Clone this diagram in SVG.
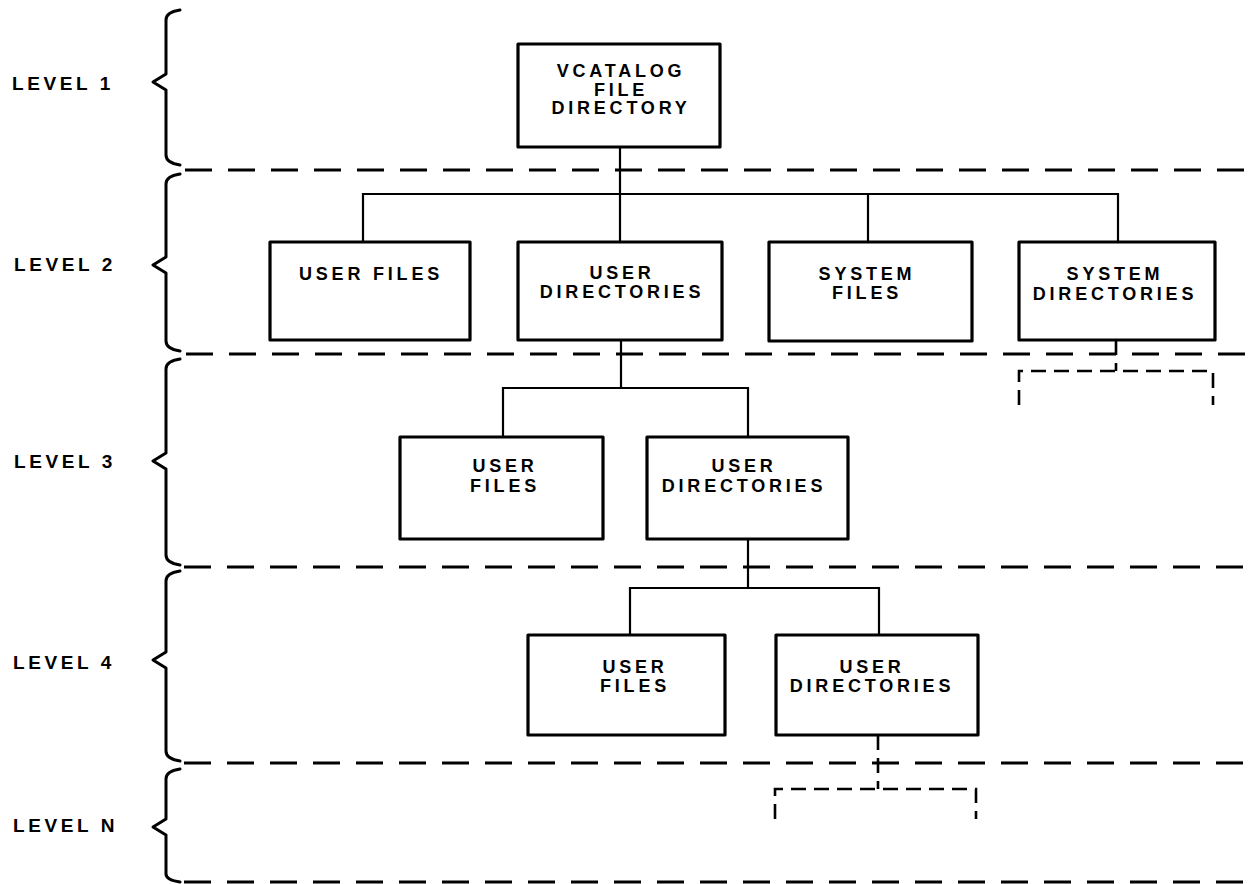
<svg xmlns="http://www.w3.org/2000/svg" width="1254" height="884" viewBox="0 0 1254 884">
<style>
  .bg { fill: #ffffff; }
  .box { fill: #ffffff; stroke: #000; stroke-width: 3.2; stroke-linejoin: round; }
  .lbl { font-family: "Liberation Sans", Arial, sans-serif; font-weight: bold; font-size: 18px; letter-spacing: 3.8px; text-anchor: middle; fill: #000; }
  .lvl { font-family: "Liberation Sans", Arial, sans-serif; font-weight: bold; font-size: 19px; letter-spacing: 3.6px; fill: #000; }
  .conn { fill: none; stroke: #000; stroke-width: 2.2; }
  .dconn { fill: none; stroke: #000; stroke-width: 2.6; stroke-dasharray: 15 8; }
  .div { fill: none; stroke: #000; stroke-width: 3; stroke-dasharray: 27 16; }
  .brace { fill: none; stroke: #000; stroke-width: 3; stroke-linejoin: round; stroke-linecap: round; }
</style>
<rect class="bg" x="0" y="0" width="1254" height="884"/>

<g id="levels">
  <g id="level1">
    <text class="lvl" x="12" y="90">LEVEL 1</text>
    <path class="brace" d="M180,10 Q166,12 166,20 L166,74 L153,82 L166,90 L166,155 Q166,163 180,165"/>
  </g>
  <g id="level2">
    <text class="lvl" x="14" y="271">LEVEL 2</text>
    <path class="brace" d="M180,174 Q166,176 166,184 L166,257 L153,265 L166,273 L166,341 Q166,349 180,351"/>
  </g>
  <g id="level3">
    <text class="lvl" x="14" y="468">LEVEL 3</text>
    <path class="brace" d="M180,359 Q166,361 166,369 L166,453 L153,461 L166,469 L166,555 Q166,563 180,565"/>
  </g>
  <g id="level4">
    <text class="lvl" x="13" y="669">LEVEL 4</text>
    <path class="brace" d="M180,571 Q166,573 166,581 L166,652 L153,660 L166,668 L166,751 Q166,759 180,761"/>
  </g>
  <g id="levelN">
    <text class="lvl" x="13" y="832">LEVEL N</text>
    <path class="brace" d="M180,769 Q166,771 166,779 L166,819 L153,827 L166,835 L166,874 Q166,880 180,882"/>
  </g>
</g>

<g id="dividers">
  <line class="div" x1="185" y1="170" x2="1254" y2="170"/>
  <line class="div" x1="186" y1="354" x2="1254" y2="354"/>
  <line class="div" x1="184" y1="567" x2="1254" y2="567"/>
  <line class="div" x1="184" y1="763" x2="1254" y2="763"/>
  <line class="div" x1="184" y1="882" x2="1254" y2="882"/>
</g>

<g id="connectors">
  <!-- level 1 to level 2 -->
  <line class="conn" x1="620" y1="147" x2="620" y2="242"/>
  <polyline class="conn" points="363,242 363,194 1118,194 1118,242"/>
  <line class="conn" x1="868" y1="194" x2="868" y2="242"/>
  <!-- level 2 user directories to level 3 -->
  <line class="conn" x1="621" y1="340" x2="621" y2="388"/>
  <polyline class="conn" points="503,437 503,388 748,388 748,437"/>
  <!-- level 3 user directories to level 4 -->
  <line class="conn" x1="748" y1="539" x2="748" y2="588"/>
  <polyline class="conn" points="630,635 630,588 879,588 879,635"/>
  <!-- system directories continuation -->
  <line class="dconn" x1="1116" y1="340" x2="1116" y2="371"/>
  <path class="dconn" d="M1019,405 L1019,371 L1213,371 L1213,405"/>
  <!-- level 4 user directories continuation -->
  <line class="dconn" x1="878" y1="735" x2="878" y2="789"/>
  <path class="dconn" d="M775,819 L775,789 L976,789 L976,819"/>
</g>

<g id="n-vcatalog">
  <rect class="box" x="518" y="44" width="202" height="103"/>
  <text class="lbl" x="621" y="77">VCATALOG</text>
  <text class="lbl" x="621" y="96">FILE</text>
  <text class="lbl" x="621" y="114">DIRECTORY</text>
</g>

<g id="n-l2-user-files">
  <rect class="box" x="270" y="242" width="200" height="98"/>
  <text class="lbl" x="371" y="280">USER FILES</text>
</g>
<g id="n-l2-user-dirs">
  <rect class="box" x="518" y="242" width="204" height="98"/>
  <text class="lbl" x="622" y="279">USER</text>
  <text class="lbl" x="622" y="298">DIRECTORIES</text>
</g>
<g id="n-l2-system-files">
  <rect class="box" x="769" y="242" width="203" height="99"/>
  <text class="lbl" x="867" y="280">SYSTEM</text>
  <text class="lbl" x="867" y="299">FILES</text>
</g>
<g id="n-l2-system-dirs">
  <rect class="box" x="1019" y="242" width="196" height="98"/>
  <text class="lbl" x="1115" y="280">SYSTEM</text>
  <text class="lbl" x="1115" y="300">DIRECTORIES</text>
</g>

<g id="n-l3-user-files">
  <rect class="box" x="400" y="437" width="203" height="102"/>
  <text class="lbl" x="505" y="472">USER</text>
  <text class="lbl" x="505" y="492">FILES</text>
</g>
<g id="n-l3-user-dirs">
  <rect class="box" x="647" y="437" width="201" height="102"/>
  <text class="lbl" x="744" y="472">USER</text>
  <text class="lbl" x="744" y="492">DIRECTORIES</text>
</g>

<g id="n-l4-user-files">
  <rect class="box" x="528" y="635" width="197" height="100"/>
  <text class="lbl" x="635" y="673">USER</text>
  <text class="lbl" x="635" y="692">FILES</text>
</g>
<g id="n-l4-user-dirs">
  <rect class="box" x="776" y="635" width="202" height="100"/>
  <text class="lbl" x="872" y="673">USER</text>
  <text class="lbl" x="872" y="692">DIRECTORIES</text>
</g>
</svg>
